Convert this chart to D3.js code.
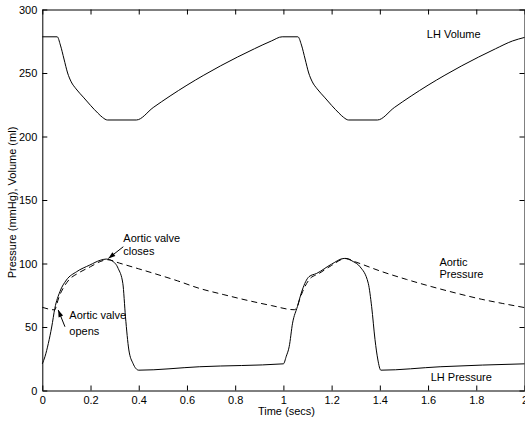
<!DOCTYPE html>
<html lang="en">
<head>
<meta charset="UTF-8">
<title>LH Pressure / Volume</title>
<script src="https://d3js.org/d3.v7.min.js"></script>
<style>
  body { margin: 0; background: #fff; font-family: "Liberation Sans", Arial, sans-serif; }
  svg text { font-family: "Liberation Sans", Arial, sans-serif; }
</style>
</head>
<body>
<div id="chart"></div>
<script>
// ---- data ----
const xTicks = [0, 0.2, 0.4, 0.6, 0.8, 1, 1.2, 1.4, 1.6, 1.8, 2];
const yTicks = [0, 50, 100, 150, 200, 250, 300];

// LH volume (ml)
const volTime = [0, 0.062, 0.075, 0.09, 0.105, 0.12, 0.14, 0.17, 0.2, 0.23, 0.25, 0.27, 0.39,
  0.46, 0.53, 0.6, 0.67, 0.74, 0.81, 0.88, 0.95, 0.995,
  1.06, 1.075, 1.09, 1.105, 1.12, 1.14, 1.17, 1.2, 1.23, 1.25, 1.27, 1.39,
  1.46, 1.53, 1.6, 1.67, 1.74, 1.81, 1.88, 1.95, 2.0];
const volValue = [278.5, 278.5, 272, 261, 250, 243, 237.5, 231, 224.5, 218.5, 215, 213, 213,
  222.8, 231.9, 240.4, 248.3, 255.7, 262.6, 269.1, 275.2, 278.5,
  278.5, 272, 261, 250, 243, 237.5, 231, 224.5, 218.5, 215, 213, 213,
  222.8, 231.9, 240.4, 248.3, 255.7, 262.6, 269.1, 275.2, 278];

// LH pressure (mmHg)
const lhTime = [0, 0.011, 0.025, 0.039, 0.052, 0.073, 0.1, 0.142, 0.197, 0.24, 0.265, 0.29,
  0.315, 0.334, 0.345, 0.359, 0.376, 0.4, 0.651, 1.0,
  1.012, 1.024, 1.038, 1.058, 1.078, 1.106, 1.138, 1.2, 1.252, 1.29, 1.318,
  1.352, 1.366, 1.38, 1.392, 1.404, 1.65, 2.0];
const lhValue = [21, 26.6, 37, 50, 64.7, 77.8, 87, 93.5, 98.8, 102.5, 103.5, 102,
  96, 84.4, 58, 31.9, 21.4, 16, 18.7, 21,
  27, 34.5, 53, 66, 79, 89.6, 92.2, 99.5, 104, 101.5, 97.4,
  84.4, 66, 40, 24, 16, 18.7, 21];

// Aortic pressure (mmHg)
const aoTime = [0, 0.052, 0.06, 0.07, 0.085, 0.11, 0.15, 0.2, 0.24, 0.27,
  0.32, 0.4, 0.48, 0.56, 0.65, 0.75, 0.85, 0.95, 1.045,
  1.058, 1.066, 1.08, 1.11, 1.145, 1.2, 1.258,
  1.3, 1.41, 1.51, 1.616, 1.72, 1.823, 1.91, 2.0];
const aoValue = [65.5, 63.5, 68, 74, 80, 87, 92.5, 97.5, 101.5, 103,
  100.3, 95.8, 91.2, 86.4, 80.5, 75.6, 71, 66.9, 63.6,
  66, 71, 78, 88, 91.8, 98.5, 104,
  101.2, 93.5, 87.5, 81.7, 76.5, 71.8, 68.5, 65.3];

const zip = (ts, vs) => ts.map((t, i) => ({ t, v: vs[i] }));

// ---- layout ----
const width = 525, height = 423;
const margin = { top: 9.5, right: 0.5, bottom: 32.5, left: 42.3 };

const svg = d3.select("#chart").append("svg")
  .attr("width", width).attr("height", height);

const x = d3.scaleLinear().domain([0, 2]).range([margin.left, width - margin.right]);
const y = d3.scaleLinear().domain([0, 300]).range([height - margin.bottom, margin.top]);

const fmt = d => String(d);

// axes with inward ticks on all four sides
svg.append("g")
  .attr("transform", `translate(0,${y(0)})`)
  .call(d3.axisBottom(x).tickValues(xTicks).tickFormat(fmt).tickSizeInner(-5).tickSizeOuter(0).tickPadding(6));
svg.append("g")
  .attr("transform", `translate(0,${y(300)})`)
  .call(d3.axisTop(x).tickValues(xTicks).tickFormat("").tickSizeInner(-5).tickSizeOuter(0));
svg.append("g")
  .attr("transform", `translate(${x(0)},0)`)
  .call(d3.axisLeft(y).tickValues(yTicks).tickFormat(fmt).tickSizeInner(-5).tickSizeOuter(0).tickPadding(5));
svg.append("g")
  .attr("transform", `translate(${x(2)},0)`)
  .call(d3.axisRight(y).tickValues(yTicks).tickFormat("").tickSizeInner(-5).tickSizeOuter(0));

svg.selectAll(".domain").attr("stroke", "#000").attr("stroke-width", 1);
svg.selectAll(".tick line").attr("stroke", "#000");
svg.selectAll(".tick text").attr("font-size", 11).attr("fill", "#000");

// axis titles
svg.append("text")
  .attr("x", (x(0) + x(2)) / 2 + 3).attr("y", 415)
  .attr("text-anchor", "middle").attr("font-size", 11)
  .text("Time (secs)");
svg.append("text")
  .attr("transform", `translate(16,${(y(0) + y(300)) / 2 + 2.5}) rotate(-90)`)
  .attr("text-anchor", "middle").attr("font-size", 11)
  .text("Pressure (mmHg), Volume (ml)");

// curves
const line = d3.line().x(d => x(d.t)).y(d => y(d.v)).curve(d3.curveMonotoneX);

svg.append("path").datum(zip(volTime, volValue))
  .attr("fill", "none").attr("stroke", "#000").attr("stroke-width", 1).attr("d", line);
svg.append("path").datum(zip(lhTime, lhValue))
  .attr("fill", "none").attr("stroke", "#000").attr("stroke-width", 1).attr("d", line);
svg.append("path").datum(zip(aoTime, aoValue))
  .attr("fill", "none").attr("stroke", "#000").attr("stroke-width", 1)
  .attr("stroke-dasharray", "6,4").attr("d", line);

// annotations
svg.append("defs").append("marker")
  .attr("id", "arrow").attr("viewBox", "0 0 10 10")
  .attr("refX", 10).attr("refY", 5)
  .attr("markerWidth", 8).attr("markerHeight", 7)
  .attr("markerUnits", "userSpaceOnUse")
  .attr("orient", "auto")
  .append("path").attr("d", "M0,1.5 L10,5 L0,8.5 Z").attr("fill", "#000");

const label = (t, v, txt) => svg.append("text")
  .attr("x", x(t)).attr("y", y(v)).attr("font-size", 11).text(txt);

label(1.595, 277.4, "LH Volume");
label(0.336, 116.9, "Aortic valve");
label(0.336, 106.6, "closes");
label(0.112, 56.3, "Aortic valve");
label(0.112, 43.7, "opens");
label(1.647, 98.4, "Aortic");
label(1.647, 88.5, "Pressure");
label(1.611, 7.5, "LH Pressure");

const arrow = (t0, v0, t1, v1) => svg.append("line")
  .attr("x1", x(t0)).attr("y1", y(v0)).attr("x2", x(t1)).attr("y2", y(v1))
  .attr("stroke", "#000").attr("stroke-width", 1).attr("marker-end", "url(#arrow)");

arrow(0.336, 113.2, 0.274, 104);
arrow(0.094, 50.2, 0.066, 63.4);
</script>
</body>
</html>
